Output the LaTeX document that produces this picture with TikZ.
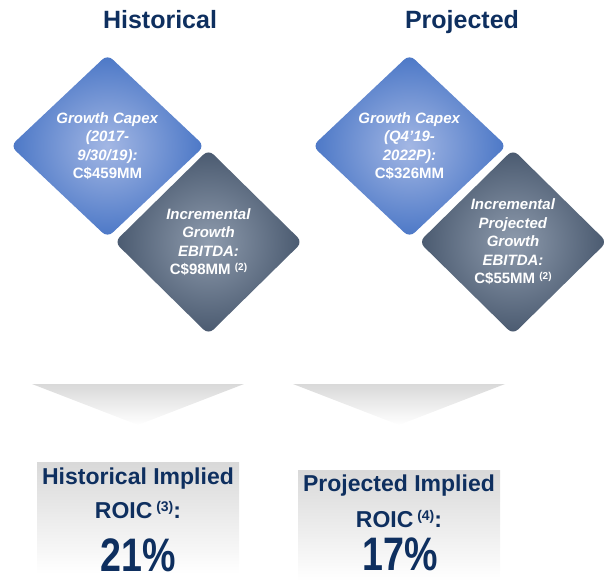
\documentclass[tikz,border=0pt]{standalone}
\usepackage{fontspec}
\setmainfont{Liberation Sans}
\newfontfamily\pctfont{Liberation Sans}[FakeStretch=0.8]
\usetikzlibrary{shapes.geometric}
\definecolor{navy}{HTML}{0E2F5F}
\definecolor{capexblue}{HTML}{4472C4}
\definecolor{capexglow}{HTML}{A3B7E4}
\definecolor{ebitdaslate}{HTML}{44546A}
\definecolor{ebitdaglow}{HTML}{8E9BAD}
\pgfdeclareradialshading{capexshade}{\pgfpoint{0bp}{0bp}}{color(0bp)=(capexglow); color(27bp)=(capexblue); color(50bp)=(capexblue)}
\pgfdeclareradialshading{ebitdashade}{\pgfpoint{0bp}{0bp}}{color(0bp)=(ebitdaglow); color(27bp)=(ebitdaslate); color(50bp)=(ebitdaslate)}
\newcommand{\supnote}[2]{\raisebox{.3em}{\fontsize{#1}{#1}\selectfont(#2)}}

\begin{document}
\begin{tikzpicture}[x=1pt, y=-1pt,
    gem/.style={diamond, inner sep=0pt, rounded corners=7pt, align=center, text=white, font=\fontsize{15}{18.5}\selectfont\bfseries},
    capex/.style={gem, minimum width=194, minimum height=183, shade, shading=capexshade},
    ebitda/.style={gem, minimum width=188, minimum height=185, shade, shading=ebitdashade},
    heading/.style={text=navy, font=\fontsize{25}{25}\selectfont\bfseries, anchor=base},
    roic/.style={text=navy, font=\fontsize{23}{23}\selectfont\bfseries, anchor=base},
    pct/.style={text=navy, font=\pctfont\fontsize{47}{47}\selectfont\bfseries, anchor=base, inner sep=1pt},
    fade/.style={top color=black!15, bottom color=white}]
\useasboundingbox (0,0) rectangle (605,581);

\node (histhead) at (160,28)[heading]{Historical};
\node (projhead) at (462,28)[heading]{Projected};

\node (histcapex) at (107.5,146)[capex]{\textit{Growth Capex}\\\textit{(2017-}\\\textit{9/30/19):}\\C\$459MM};
\node (histebitda) at (208.5,242)[ebitda]{\textit{Incremental}\\\textit{Growth}\\\textit{EBITDA:}\\C\$98MM \supnote{10}{2}};
\node (projcapex) at (409.5,146)[capex]{\textit{Growth Capex}\\\textit{(Q4'19-}\\\textit{2022P):}\\C\$326MM};
\node (projebitda) at (513,242)[ebitda]{\textit{Incremental}\\\textit{Projected}\\\textit{Growth}\\\textit{EBITDA:}\\C\$55MM \supnote{10}{2}};

\foreach \cx in {138,399}
{
    \shade[fade] (\cx-106,384) -- (\cx+106,384) -- (\cx,425) -- cycle;
}

\shade[fade] (37,462) rectangle (239,574);
\shade[fade] (298,470) rectangle (500,581);

\node (histlabel) at (138,484)[roic]{Historical Implied};
\node (histroic) at (138,518)[roic]{ROIC\,\supnote{14}{3}:};
\node (histpct) at (138,571)[pct]{21\%};
\node (projlabel) at (399,491)[roic]{Projected Implied};
\node (projroic) at (399,527)[roic]{ROIC\,\supnote{14}{4}:};
\node (projpct) at (400,570)[pct]{17\%};
\end{tikzpicture}
\end{document}
